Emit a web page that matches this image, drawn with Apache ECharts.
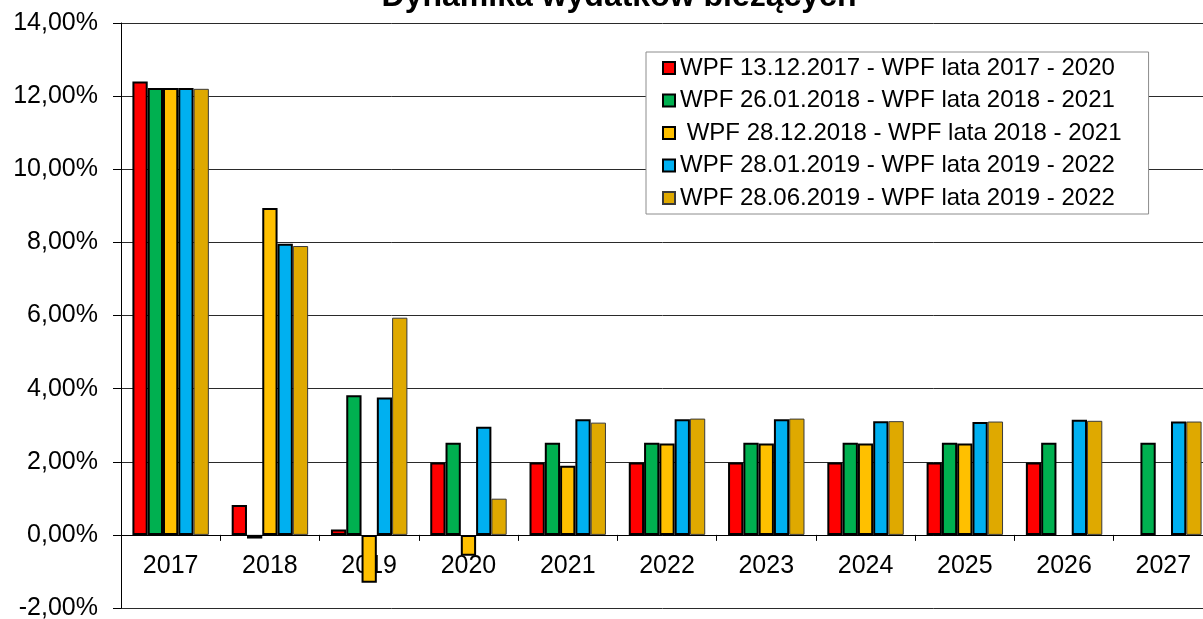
<!DOCTYPE html>
<html>
<head>
    <meta charset="utf-8" />
    <title>Dynamika wydatków bieżących</title>
    <style type="text/css">
        html,body{margin:0;padding:0;background-color:#fff;}
        #chart{width:1203px;height:619px;}
    </style>
</head>
<body>
<div id="chart"></div>
<script src="https://cdn.jsdelivr.net/npm/echarts@6/dist/echarts.min.js"></script>
<script>
    // lata
    var years = ['2017','2018','2019','2020','2021','2022','2023','2024','2025','2026','2027'];
    var seriesNames = [
        'WPF 13.12.2017 - WPF lata 2017 - 2020',
        'WPF 26.01.2018 - WPF lata 2018 - 2021',
        ' WPF 28.12.2018 - WPF lata 2018 - 2021',
        'WPF 28.01.2019 - WPF lata 2019 - 2022',
        'WPF 28.06.2019 - WPF lata 2019 - 2022'
    ];
    // dynamika w %
    var wpf20171213 = [12.40, 0.82, 0.15, 1.98, 1.98, 1.98, 1.98, 1.98, 1.98, 1.98, null];
    var wpf20180126 = [12.22, -0.10, 3.82, 2.52, 2.52, 2.52, 2.52, 2.52, 2.52, 2.52, 2.52];
    var wpf20181228 = [12.22, 8.94, -1.31, -0.57, 1.89, 2.50, 2.50, 2.50, 2.50, null, null];
    var wpf20190128 = [12.22, 7.96, 3.76, 2.96, 3.16, 3.16, 3.16, 3.11, 3.09, 3.15, 3.10];
    var wpf20190628 = [12.20, 7.90, 5.94, 0.99, 3.07, 3.18, 3.18, 3.11, 3.10, 3.12, 3.10];
    var yTicks = [-2, 0, 2, 4, 6, 8, 10, 12, 14];

    var colors = ['#ff0000', '#00b050', '#ffc000', '#00b0f0', '#dfa900'];
    var allData = [wpf20171213, wpf20180126, wpf20181228, wpf20190128, wpf20190628];

    var series = [];
    for (var i = 0; i < allData.length; i++) {
        series.push({
            name: seriesNames[i],
            type: 'bar',
            data: allData[i],
            barGap: '0%',
            barCategoryGap: '23%',
            itemStyle: {
                color: colors[i],
                borderColor: i == 4 ? '#3a3a3a' : '#000',
                borderWidth: i == 4 ? 1 : 2
            }
        });
    }

    var gridTop = 23, gridHeight = 585;
    // os X lezy na 0,00%
    var zeroOffset = gridHeight * (0 - yTicks[0]) / (yTicks[yTicks.length - 1] - yTicks[0]);

    var chart = echarts.init(document.getElementById('chart'));
    chart.setOption({
        animation: false,
        color: colors,
        textStyle: {fontFamily: '"Liberation Sans", Arial, sans-serif'},
        title: {
            text: 'Dynamika wydatków bieżących',
            left: 614,
            textAlign: 'center',
            top: -24,
            textStyle: {fontSize: 32, fontWeight: 'bold', color: '#000', fontFamily: '"Liberation Sans", Arial, sans-serif'}
        },
        legend: {
            orient: 'vertical',
            left: 646,
            top: 52,
            padding: [3, 27, 3, 16],
            itemGap: 6.5,
            itemWidth: 12,
            itemHeight: 12,
            icon: 'rect',
            borderColor: '#8c8c8c',
            borderWidth: 1,
            backgroundColor: '#fff',
            textStyle: {fontSize: 24, color: '#000', lineHeight: 26},
            data: seriesNames
        },
        grid: {
            left: 121,
            top: gridTop,
            width: 1092,
            height: gridHeight,
            outerBoundsMode: 'none'
        },
        xAxis: {
            type: 'category',
            data: years,
            offset: -zeroOffset,
            axisLine: {onZero: false, lineStyle: {color: '#000', width: 1}},
            axisTick: {show: true, length: 6, lineStyle: {color: '#000'}},
            axisLabel: {fontSize: 25, color: '#000', margin: 19}
        },
        yAxis: {
            type: 'value',
            min: yTicks[0],
            max: yTicks[yTicks.length - 1],
            interval: 2,
            axisLine: {show: true, lineStyle: {color: '#000', width: 1}},
            axisTick: {show: true, length: 8, lineStyle: {color: '#000'}},
            axisLabel: {
                fontSize: 25,
                color: '#000',
                margin: 23,
                formatter: function (v) { return v.toFixed(2).replace('.', ',') + '%'; }
            },
            splitLine: {show: true, lineStyle: {color: '#2a2a2a', width: 1}}
        },
        series: series
    });
</script>
</body>
</html>
